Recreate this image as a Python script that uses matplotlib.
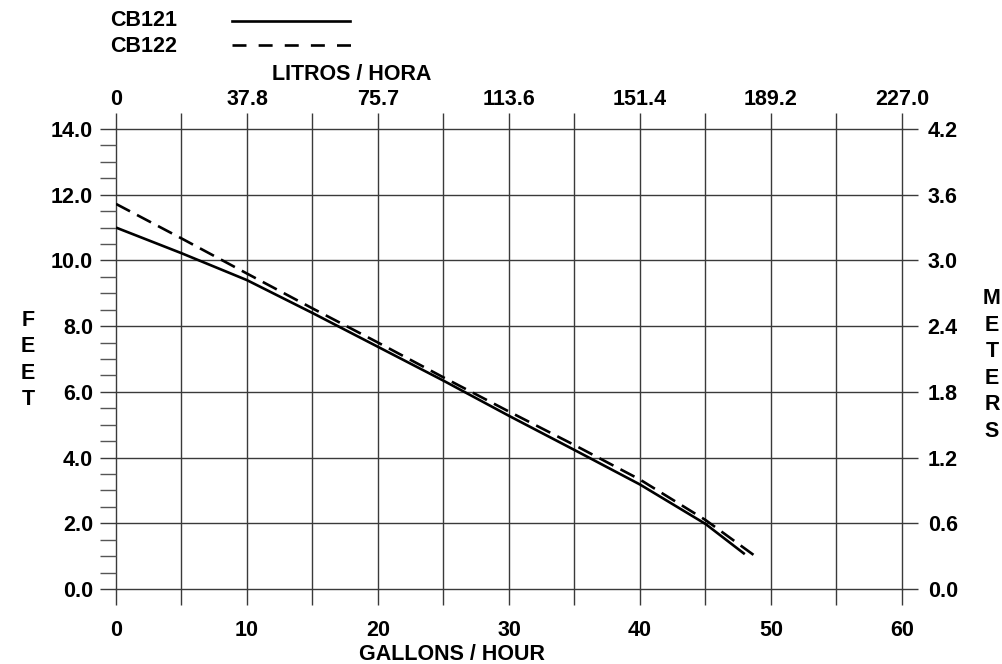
import matplotlib
matplotlib.use('Agg')
import matplotlib.pyplot as plt
from matplotlib.ticker import MultipleLocator

plt.rcParams['font.family'] = ['Liberation Sans', 'DejaVu Sans']
plt.rcParams['font.weight'] = 'bold'

# ── Data ──────────────────────────────────────────────────────────────
gph_cb121  = [0, 5, 10, 15, 20, 25, 30, 35, 40, 45, 48.0]
feet_cb121 = [11.0, 10.22, 9.4, 8.4, 7.37, 6.34, 5.27, 4.23, 3.18, 1.98, 1.06]

gph_cb122  = [0, 5, 10, 15, 20, 25, 30, 35, 40, 45, 48.8]
feet_cb122 = [11.72, 10.67, 9.6, 8.54, 7.5, 6.44, 5.4, 4.38, 3.33, 2.1, 1.0]

gph_ticks     = [0, 10, 20, 30, 40, 50, 60]
litros_labels = ['0', '37.8', '75.7', '113.6', '151.4', '189.2', '227.0']
feet_ticks    = [0, 2, 4, 6, 8, 10, 12, 14]
feet_labels   = ['0.0', '2.0', '4.0', '6.0', '8.0', '10.0', '12.0', '14.0']
meter_labels  = ['0.0', '0.6', '1.2', '1.8', '2.4', '3.0', '3.6', '4.2']

# ── Figure ────────────────────────────────────────────────────────────
fig = plt.figure(figsize=(10.03, 6.64), dpi=100)
ax = fig.add_axes([116/1003, 75/664, 786/1003, 460/664])

tick_len = 11.5
grid_col = '#3a3a3a'
fs = 15.5

ax.set_xlim(0, 60)
ax.set_ylim(0, 14)
for s in ax.spines.values():
    s.set_visible(False)

ax.set_xticks(gph_ticks, labels=[str(g) for g in gph_ticks])
ax.xaxis.set_minor_locator(MultipleLocator(5))
ax.set_yticks(feet_ticks, labels=feet_labels)
ax.yaxis.set_minor_locator(MultipleLocator(0.5))

ax.tick_params(axis='x', which='both', direction='out', length=tick_len,
               width=1, color=grid_col, labelsize=fs, pad=11)
ax.tick_params(axis='y', which='both', direction='out', length=tick_len,
               width=1, color=grid_col, labelsize=fs, pad=5)
ax.tick_params(axis='y', which='minor', color='#555555')

ax.grid(axis='x', which='both', color=grid_col, lw=1)
ax.grid(axis='y', which='major', color=grid_col, lw=1)
ax.set_axisbelow(True)
for gl in ax.get_xgridlines() + ax.get_ygridlines():
    gl.set_clip_on(False)

# ── Top (litros) and right (meters) axes ─────────────────────────────
top = ax.secondary_xaxis('top')
top.set_xticks(gph_ticks, labels=litros_labels)
top.xaxis.set_minor_locator(MultipleLocator(5))
top.tick_params(which='both', direction='out', length=tick_len, width=1,
                color=grid_col, labelsize=fs, pad=2)
for s in top.spines.values():
    s.set_visible(False)

right = ax.secondary_yaxis('right')
right.set_yticks(feet_ticks, labels=meter_labels)
right.tick_params(direction='out', length=tick_len, width=1,
                  color=grid_col, labelsize=fs, pad=7)
for s in right.spines.values():
    s.set_visible(False)

# ── Curves ────────────────────────────────────────────────────────────
ax.plot(gph_cb121, feet_cb121, color='black', lw=1.9, solid_capstyle='butt')
ax.plot(gph_cb122, feet_cb122, color='black', lw=1.9,
        dashes=(6, 3), dash_capstyle='butt')

# ── Axis titles ───────────────────────────────────────────────────────
fig.text(452/1003, 1 - 654/664, 'GALLONS / HOUR', ha='center', va='center',
         fontsize=fs, fontweight='bold')
fig.text(352/1003, 1 - 74/664, 'LITROS / HORA', ha='center', va='center',
         fontsize=fs, fontweight='bold')
fig.text(28/1003, 1 - 360/664, '\n'.join('FEET'), ha='center', va='center',
         fontsize=fs, fontweight='bold', linespacing=1.35)
fig.text(992/1003, 1 - 365/664, '\n'.join('METERS'), ha='center', va='center',
         fontsize=fs, fontweight='bold', linespacing=1.35)

# ── Legend (drawn by hand like the original) ──────────────────────────
fig.text(110/1003, 1 - 21/664, 'CB121', ha='left', va='center',
         fontsize=fs, fontweight='bold')
fig.text(110/1003, 1 - 46/664, 'CB122', ha='left', va='center',
         fontsize=fs, fontweight='bold')
fig.add_artist(plt.Line2D([232/1003, 350/1003], [1 - 21/664, 1 - 21/664],
                          color='black', lw=1.9))
fig.add_artist(plt.Line2D([232/1003, 351/1003], [1 - 45/664, 1 - 45/664],
                          color='black', lw=1.9, dashes=(5.3, 4.6)))

fig.savefig('out.png', dpi=100)
